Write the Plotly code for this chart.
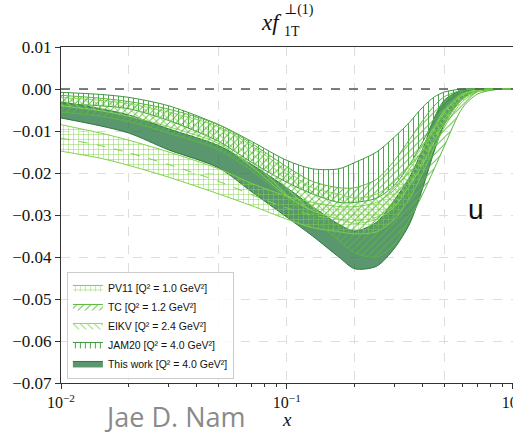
import plotly.graph_objects as go

# ---------------- data ----------------
x = [0.01, 0.015, 0.02, 0.03, 0.05, 0.07, 0.1, 0.13, 0.17, 0.2, 0.25, 0.3, 0.35, 0.4, 0.45, 0.5, 0.6, 0.7, 0.85, 1.0]

pv11_hi = [-0.0085, -0.0105, -0.0122, -0.0150, -0.0190, -0.0225, -0.0255, -0.0270, -0.0280, -0.0280, -0.0270, -0.0240, -0.0190, -0.0145, -0.0095, -0.0055, -0.0015, -0.0003, 0.0, 0.0]
pv11_lo = [-0.0148, -0.0165, -0.0182, -0.0210, -0.0250, -0.0278, -0.0310, -0.0330, -0.0340, -0.0345, -0.0340, -0.0310, -0.0260, -0.0200, -0.0140, -0.0090, -0.0030, -0.0007, -0.0001, 0.0]
pv11_mid = [-0.0117, -0.0135, -0.0152, -0.0180, -0.0220, -0.0252, -0.0283, -0.0300, -0.0310, -0.0313, -0.0305, -0.0275, -0.0225, -0.0172, -0.0118, -0.0072, -0.0022, -0.0005, 0.0, 0.0]

tc_hi = [-0.0015, -0.0022, -0.0030, -0.0048, -0.0085, -0.0130, -0.0185, -0.0220, -0.0235, -0.0235, -0.0215, -0.0170, -0.0120, -0.0075, -0.0040, -0.0018, -0.0003, 0.0, 0.0, 0.0]
tc_lo = [-0.0055, -0.0065, -0.0078, -0.0105, -0.0145, -0.0195, -0.0260, -0.0310, -0.0360, -0.0390, -0.0400, -0.0370, -0.0310, -0.0250, -0.0190, -0.0135, -0.0045, -0.0012, -0.0001, 0.0]

eikv_hi = [-0.0020, -0.0027, -0.0035, -0.0055, -0.0090, -0.0135, -0.0195, -0.0235, -0.0250, -0.0260, -0.0250, -0.0220, -0.0180, -0.0135, -0.0090, -0.0050, -0.0012, -0.0002, 0.0, 0.0]
eikv_lo = [-0.0040, -0.0052, -0.0065, -0.0090, -0.0130, -0.0185, -0.0255, -0.0290, -0.0310, -0.0320, -0.0310, -0.0280, -0.0230, -0.0180, -0.0125, -0.0080, -0.0025, -0.0005, 0.0, 0.0]

jam_hi = [-0.0008, -0.0013, -0.0020, -0.0040, -0.0085, -0.0125, -0.0170, -0.0190, -0.0190, -0.0175, -0.0150, -0.0114, -0.0079, -0.0043, -0.0019, -0.0007, 0.0, 0.0, 0.0, 0.0]
jam_lo = [-0.0035, -0.0040, -0.0047, -0.0075, -0.0125, -0.0175, -0.0222, -0.0250, -0.0270, -0.0270, -0.0260, -0.0229, -0.0180, -0.0126, -0.0074, -0.0036, -0.0007, -0.0001, 0.0, 0.0]

tw_hi = [-0.0031, -0.0047, -0.0062, -0.0095, -0.0135, -0.0180, -0.0235, -0.0280, -0.0322, -0.0338, -0.0317, -0.0264, -0.0210, -0.0143, -0.0069, -0.0026, -0.0002, 0.0, 0.0, 0.0]
tw_lo = [-0.0069, -0.0088, -0.0105, -0.0145, -0.0188, -0.0245, -0.0305, -0.0350, -0.0400, -0.0428, -0.0422, -0.0379, -0.0321, -0.0236, -0.0148, -0.0083, -0.0024, -0.0005, -0.0001, 0.0]

legend_names = [
    "PV11 [Q² = 1.0 GeV²]",
    "TC [Q² = 1.2 GeV²]",
    "EIKV [Q² = 2.4 GeV²]",
    "JAM20 [Q² = 4.0 GeV²]",
    "This work [Q² = 4.0 GeV²]",
]
y_ticks = [0.01, 0.0, -0.01, -0.02, -0.03, -0.04, -0.05, -0.06, -0.07]
x_major = [0.01, 0.1, 1.0]
x_major_text = ["10<sup>−2</sup>", "10<sup>−1</sup>", "10<sup>0</sup>"]
x_minor = [0.02, 0.03, 0.04, 0.05, 0.06, 0.07, 0.08, 0.09, 0.2, 0.3, 0.4, 0.5, 0.6, 0.7, 0.8, 0.9]
x_grid2 = [0.02, 0.05, 0.2, 0.5]

# ---------------- figure ----------------
fig = go.Figure()

def band(lo, hi, name, color, shape, rank, fillcolor=None):
    fig.add_trace(go.Scatter(x=x, y=lo, mode="lines",
                             line=dict(color=color, width=1, shape="spline", smoothing=0.8),
                             showlegend=False, hoverinfo="skip"))
    kw = {}
    if shape is None:
        kw["fillcolor"] = fillcolor
    else:
        kw["fillcolor"] = "rgba(0,0,0,0)"
        kw["fillpattern"] = dict(shape=shape, fgcolor=color, bgcolor="rgba(0,0,0,0)",
                                 size=5, solidity=0.18, fillmode="replace")
    fig.add_trace(go.Scatter(x=x, y=hi, mode="lines",
                             line=dict(color=color, width=1, shape="spline", smoothing=0.8),
                             fill="tonexty", name=name, legendrank=rank, hoverinfo="skip", **kw))

band(tw_lo, tw_hi, legend_names[4], "#2a7a3c", None, 5, fillcolor="rgba(38,118,66,0.76)")
band(jam_lo, jam_hi, legend_names[3], "#3c983c", "|", 4)
band(pv11_lo, pv11_hi, legend_names[0], "#7ed348", "+", 1)
fig.add_trace(go.Scatter(x=x, y=pv11_mid, mode="lines",
                         line=dict(color="#7ed348", width=1, dash="dash", shape="spline", smoothing=0.8),
                         showlegend=False, hoverinfo="skip"))
band(eikv_lo, eikv_hi, legend_names[2], "#8bd95e", "\\", 3)
band(tc_lo, tc_hi, legend_names[1], "#5cb83e", "/", 2)

# zero reference line
fig.add_shape(type="line", xref="x domain", yref="y", x0=0, x1=1, y0=0, y1=0,
              line=dict(color="#555555", width=1.5, dash="dash"))

serif = "Liberation Serif, DejaVu Serif, serif"
grid = dict(showgrid=True, gridcolor="#dddddd", griddash="dash", gridwidth=1)
fig.update_layout(
    width=513, height=432,
    margin=dict(l=61, r=0, t=47, b=49),
    paper_bgcolor="white", plot_bgcolor="white",
    font=dict(family=serif, color="#111"),
    showlegend=True,
    legend=dict(x=0.013, y=0.012, xanchor="left", yanchor="bottom",
                bgcolor="rgba(255,255,255,0.85)", bordercolor="#cccccc", borderwidth=1,
                font=dict(family="Liberation Sans", size=10.5, color="#111"),
                traceorder="normal", tracegroupgap=0, itemwidth=30),
    xaxis=dict(type="log", range=[-2, 0.002], tickvals=x_major, ticktext=x_major_text,
               ticks="outside", ticklen=5, tickwidth=1, tickcolor="#333",
               ticklabeloverflow="allow",
               showline=True, linecolor="#333", linewidth=1.2, mirror=True,
               tickfont=dict(family=serif, size=16, color="#111"),
               minor=dict(tickvals=x_minor, ticks="outside", ticklen=3, tickcolor="#333", showgrid=False),
               zeroline=False, automargin=False, **grid),
    xaxis2=dict(type="log", range=[-2, 0.002], overlaying="x", tickvals=x_grid2, showticklabels=False,
                ticks="", showline=False, zeroline=False, automargin=False, **grid),
    yaxis=dict(range=[-0.07, 0.01], tickvals=y_ticks, tickformat=".2f",
               ticks="outside", ticklen=5, tickwidth=1, tickcolor="#333",
               showline=True, linecolor="#333", linewidth=1.2, mirror=True,
               tickfont=dict(family=serif, size=17, color="#111"),
               zeroline=False, automargin=False, **grid),
)
# dummy trace to activate the second x axis (grid only)
fig.add_trace(go.Scatter(x=[None], y=[None], xaxis="x2", showlegend=False, hoverinfo="skip"))

# title  x f_{1T}^{⊥(1)}
fig.add_annotation(text="<i>xf</i>", xref="paper", yref="paper", x=0.493, y=1.073,
                   xanchor="right", yanchor="middle", showarrow=False,
                   font=dict(family=serif, size=23, color="#111"))
fig.add_annotation(text="⊥(1)", xref="paper", yref="paper", x=0.49, y=1.11,
                   xanchor="left", yanchor="middle", showarrow=False,
                   font=dict(family=serif, size=14, color="#111"))
fig.add_annotation(text="1T", xref="paper", yref="paper", x=0.49, y=1.045,
                   xanchor="left", yanchor="middle", showarrow=False,
                   font=dict(family=serif, size=14, color="#111"))
# x-axis label
fig.add_annotation(text="<i>x</i>", xref="paper", yref="paper", x=0.5, y=-0.11,
                   xanchor="center", yanchor="middle", showarrow=False,
                   font=dict(family=serif, size=19, color="#111"))
# quark flavour
fig.add_annotation(text="u", xref="paper", yref="paper", x=0.918, y=0.515,
                   xanchor="center", yanchor="middle", showarrow=False,
                   font=dict(family="Liberation Sans", size=28, color="#111"))
# author
fig.add_annotation(text="Jae D. Nam", xref="paper", yref="paper", x=0.25, y=-0.1,
                   xanchor="center", yanchor="middle", showarrow=False,
                   font=dict(family="Open Sans", size=27, color="#8a8a8a"))

fig.write_html("out.html")
